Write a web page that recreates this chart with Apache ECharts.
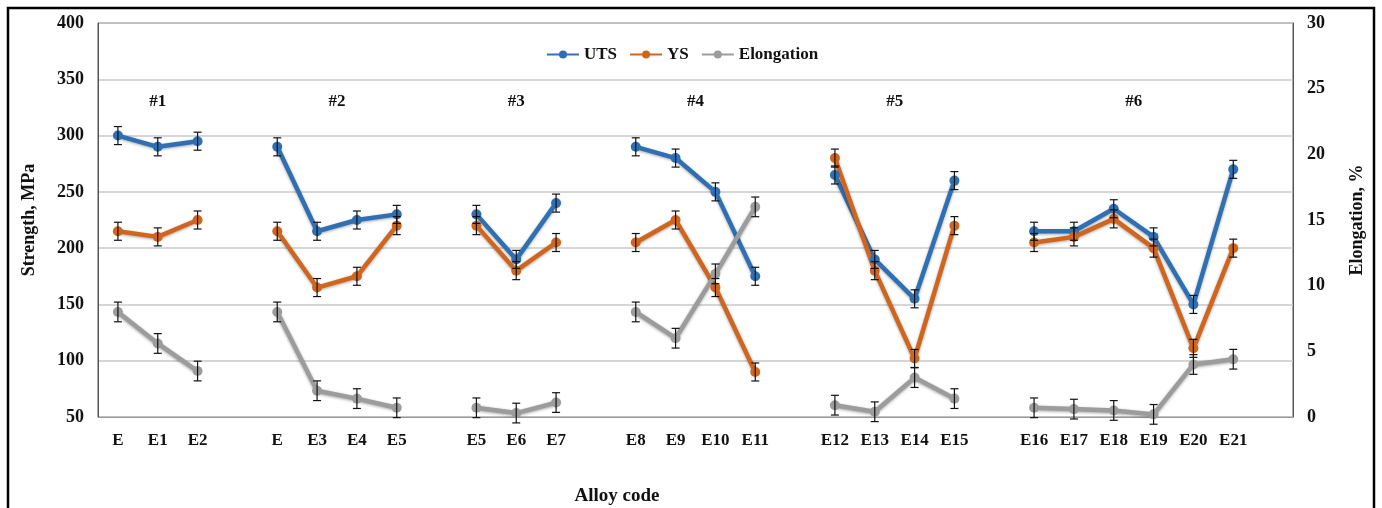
<!DOCTYPE html>
<html>
<head>
<meta charset="utf-8">
<script src="https://cdn.jsdelivr.net/npm/echarts@6/dist/echarts.min.js"></script>
<style>
  html, body { margin: 0; padding: 0; background: #fff; }
  #chart { width: 1382px; height: 508px; }
</style>
</head>
<body>
<div id="chart"></div>
<script>
// blank '' entries separate the alloy groups
const categories = ['E', 'E1', 'E2', '', 'E', 'E3', 'E4', 'E5', '', 'E5', 'E6', 'E7', '',
  'E8', 'E9', 'E10', 'E11', '', 'E12', 'E13', 'E14', 'E15', '',
  'E16', 'E17', 'E18', 'E19', 'E20', 'E21', ''];

const uts = [300, 290, 295, null, 290, 215, 225, 230, null, 230, 190, 240, null,
  290, 280, 250, 175, null, 265, 190, 155, 260, null,
  215, 215, 235, 210, 150, 270, null];
const ys = [215, 210, 225, null, 215, 165, 175, 220, null, 220, 180, 205, null,
  205, 225, 165, 90, null, 280, 180, 102, 220, null,
  205, 210, 226, 200, 111, 200, null];
const elongation = [8.0, 5.6, 3.5, null, 8.0, 2.0, 1.4, 0.7, null, 0.7, 0.3, 1.1, null,
  8.0, 6.0, 10.9, 16.0, null, 0.9, 0.4, 3.0, 1.4, null,
  0.7, 0.6, 0.5, 0.2, 4.0, 4.4, null];

const strengthErr = 8;
const elongErr = 0.75;

// first and last category index of each group
const groupLabels = ['#1', '#2', '#3', '#4', '#5', '#6'];
const groupSpans = [[0, 2], [4, 7], [9, 11], [13, 16], [18, 21], [23, 28]];

const strengthTicks = { min: 50, max: 400, interval: 50 };
const elongTicks = { min: 0, max: 30, interval: 5 };

const font = 'Liberation Serif';
const colors = { uts: '#2E70B3', ys: '#D2651D', elong: '#9C9C9C' };

const chart = echarts.init(document.getElementById('chart'));

function lineSeries(name, data, color, yAxisIndex) {
  return {
    name: name,
    type: 'line',
    data: data,
    yAxisIndex: yAxisIndex,
    symbol: 'circle',
    symbolSize: 10,
    z: 3,
    itemStyle: { color: color },
    lineStyle: {
      width: 4.5, color: color,
      shadowBlur: 3, shadowColor: 'rgba(0,0,0,0.35)', shadowOffsetY: 1
    }
  };
}

function errorSeries(data, err, yAxisIndex) {
  const rows = [];
  data.forEach(function (v, i) {
    if (v != null) rows.push([i, v - err, v + err]);
  });
  return {
    type: 'custom',
    yAxisIndex: yAxisIndex,
    data: rows,
    z: 4,
    silent: true,
    renderItem: function (params, api) {
      const lo = api.coord([api.value(0), api.value(1)]);
      const hi = api.coord([api.value(0), api.value(2)]);
      const w = 4;
      const style = { stroke: '#111', lineWidth: 1.2 };
      return {
        type: 'group',
        children: [
          { type: 'line', shape: { x1: lo[0], y1: lo[1], x2: hi[0], y2: hi[1] }, style: style },
          { type: 'line', shape: { x1: lo[0] - w, y1: lo[1], x2: lo[0] + w, y2: lo[1] }, style: style },
          { type: 'line', shape: { x1: hi[0] - w, y1: hi[1], x2: hi[0] + w, y2: hi[1] }, style: style }
        ]
      };
    }
  };
}

const tickStyle = { fontFamily: font, fontWeight: 'bold', fontSize: 18, color: '#111' };
const nameStyle = { fontFamily: font, fontWeight: 'bold', fontSize: 18, color: '#111' };

const option = {
  animation: false,
  backgroundColor: '#fff',
  grid: {
    left: 98, right: 89, top: 23, bottom: 91,
    show: true, borderColor: '#555', borderWidth: 1
  },
  legend: {
    data: ['UTS', 'YS', 'Elongation'],
    top: 41,
    left: 541,
    itemWidth: 32,
    itemHeight: 10,
    itemGap: 12,
    textStyle: { fontFamily: font, fontWeight: 'bold', fontSize: 17, color: '#111' }
  },
  xAxis: {
    type: 'category',
    data: categories,
    boundaryGap: true,
    axisLine: { lineStyle: { color: '#999' } },
    axisTick: { show: false },
    axisLabel: Object.assign({ interval: 0, margin: 15 }, tickStyle, { fontSize: 17 })
  },
  yAxis: [
    {
      type: 'value',
      min: strengthTicks.min, max: strengthTicks.max, interval: strengthTicks.interval,
      name: 'Strength, MPa',
      nameLocation: 'middle',
      nameGap: 60,
      nameRotate: 90,
      nameTextStyle: nameStyle,
      axisLine: { show: true, lineStyle: { color: '#555' } },
      axisTick: { show: false },
      axisLabel: Object.assign({ margin: 14 }, tickStyle),
      splitLine: { lineStyle: { color: '#c8c8c8', width: 1.5 } }
    },
    {
      type: 'value',
      min: elongTicks.min, max: elongTicks.max, interval: elongTicks.interval,
      name: 'Elongation, %',
      nameLocation: 'middle',
      nameGap: 55,
      nameRotate: 90,
      nameTextStyle: nameStyle,
      axisLine: { show: true, lineStyle: { color: '#555' } },
      axisTick: { show: false },
      axisLabel: Object.assign({ margin: 14 }, tickStyle),
      splitLine: { show: false }
    }
  ],
  series: [
    lineSeries('UTS', uts, colors.uts, 0),
    lineSeries('YS', ys, colors.ys, 0),
    lineSeries('Elongation', elongation, colors.elong, 1),
    errorSeries(uts, strengthErr, 0),
    errorSeries(ys, strengthErr, 0),
    errorSeries(elongation, elongErr, 1)
  ]
};

chart.setOption(option);

// group labels, frame and x axis title
const labelY = chart.convertToPixel({ yAxisIndex: 0 }, 330);
const graphics = groupLabels.map(function (txt, i) {
  const a = chart.convertToPixel({ xAxisIndex: 0 }, groupSpans[i][0]);
  const b = chart.convertToPixel({ xAxisIndex: 0 }, groupSpans[i][1]);
  return {
    type: 'text',
    x: (a + b) / 2, y: labelY,
    style: {
      text: txt, fontFamily: font, fontWeight: 'bold', fontSize: 17,
      fill: '#111', align: 'center', verticalAlign: 'middle'
    }
  };
});
graphics.push({
  type: 'text',
  x: 617, y: 496,
  style: {
    text: 'Alloy code', fontFamily: font, fontWeight: 'bold', fontSize: 19,
    fill: '#111', align: 'center', verticalAlign: 'middle'
  }
});
graphics.push({
  type: 'rect',
  shape: { x: 8, y: 8, width: 1366, height: 530 },
  style: { fill: 'none', stroke: '#000', lineWidth: 2.5 },
  silent: true
});
chart.setOption({ graphic: graphics });
</script>
</body>
</html>
